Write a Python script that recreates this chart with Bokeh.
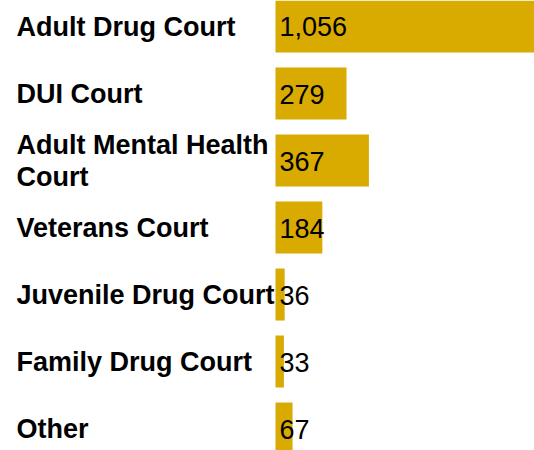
from bokeh.plotting import figure
from bokeh.models import ColumnDataSource, Range1d
from bokeh.core.properties import value
from bokeh.embed import file_html
from bokeh.resources import INLINE

categories = ["Adult Drug Court", "DUI Court", "Adult Mental Health\nCourt",
              "Veterans Court", "Juvenile Drug Court", "Family Drug Court", "Other"]
counts = [1056, 279, 367, 184, 36, 33, 67]
count_labels = ["1,056", "279", "367", "184", "36", "33", "67"]

ypos = [-i for i in range(len(categories))]
src = ColumnDataSource(dict(y=ypos, cat=categories, n=counts, lab=count_labels,
                            zero=[0] * len(counts)))

W, H = 534, 450
XL, XR = -1080.6, 1017.7
p = figure(width=W, height=H, output_backend="svg", toolbar_location=None,
           x_range=Range1d(XL, XR), y_range=Range1d(-6.328, 0.388),
           min_border=0, min_border_left=0, min_border_right=0,
           min_border_top=0, min_border_bottom=0)
p.axis.visible = False
p.grid.visible = False
p.outline_line_color = None
p.background_fill_color = "white"
p.border_fill_color = "white"

p.hbar(y="y", left="zero", right="n", height=0.776, source=src,
       fill_color="#D9AA00", line_color=None)

p.text(x="zero", y="y", text="lab", source=src, x_offset=4, y_offset=0.5,
       text_font=value("Liberation Sans"), text_font_size="27px",
       text_color="black", text_align="left", text_baseline="middle")

p.text(x=XL, y="y", text="cat", source=src, x_offset=16, y_offset=0.5,
       text_font=value("Liberation Sans"), text_font_size="27px",
       text_font_style="bold", text_line_height=1.07,
       text_color="black", text_align="left", text_baseline="middle")

open("out.html", "w").write(file_html(p, INLINE))
